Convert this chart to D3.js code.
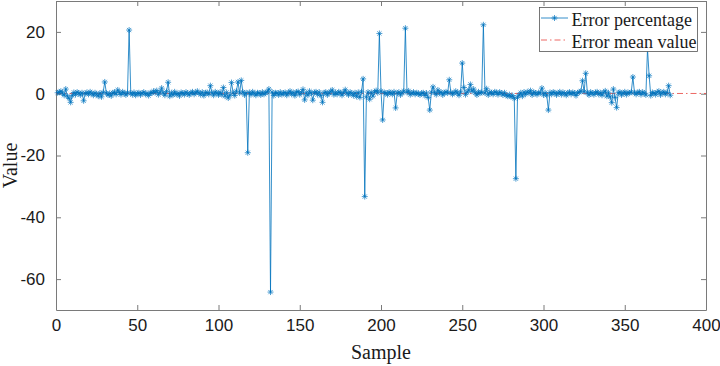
<!DOCTYPE html>
<html>
<head>
<meta charset="utf-8">
<script src="https://cdn.jsdelivr.net/npm/d3@7"></script>
<style>
html,body{margin:0;padding:0;background:#fff;}
svg{display:block;}
</style>
</head>
<body>
<svg id="chart" width="720" height="366"></svg>
<script>
// ---- data ----
const errorValues = [
 0.3,0.5,0.8,0.2,-0.5,1.5,-0.8,-1.5,-2.8,-0.6,0.4,-0.3,0.5,0.2,-0.4,0.3,-2.3,0.1,0.4,-0.2,
 0.6,0.1,-0.5,0.3,-0.2,-0.8,0.2,-1.0,0.4,3.8,0.2,-0.4,0.1,-0.7,0.3,0.5,-0.2,1.2,0.4,-0.3,
 0.6,0.2,-0.4,0.3,20.6,0.2,-0.3,0.4,-0.5,0.1,
 0.3,-0.4,0.2,0.5,-0.2,0.1,-0.6,0.3,0.2,0.8,0.4,1.0,-0.3,0.5,1.8,0.2,-0.5,0.7,3.7,-0.8,
 0.3,-0.4,0.6,-0.2,0.1,-0.7,0.4,0.2,-0.3,0.5,0.1,-0.4,0.3,0.6,-0.2,0.4,0.8,0.2,-0.3,0.5,
 -0.6,0.3,0.4,-0.2,2.6,0.3,-0.5,0.6,0.2,-0.4,
 0.5,-0.3,2.0,-0.8,0.4,-1.4,-0.5,3.6,0.3,-0.6,0.8,3.8,0.2,4.3,0.5,-0.4,0.3,-19.1,0.4,-0.3,
 0.6,0.1,-0.5,0.3,0.2,-0.4,0.5,-0.2,0.3,0.6,1.5,-64.2,0.5,-0.6,0.3,0.2,-0.4,0.5,-0.3,0.2,
 0.4,-0.5,0.3,0.8,-0.2,0.4,-0.6,0.5,0.7,-0.3,
 0.4,1.4,-2.0,0.3,-0.5,0.8,0.2,-2.1,0.4,0.6,-0.3,0.5,-0.6,-2.8,0.3,0.5,-0.4,0.2,0.7,1.2,
 -0.3,0.4,-0.2,0.6,0.3,-0.5,0.4,1.3,0.2,-0.4,0.5,0.1,-0.6,0.3,-0.9,0.4,-1.2,0.6,4.8,-33.3,
 -1.0,0.5,-1.8,0.4,-0.8,0.6,1.0,0.3,19.5,0.8,
 -8.5,0.4,0.2,-0.3,0.5,0.3,-0.2,0.6,-4.6,0.2,0.5,-0.4,0.3,0.8,21.2,0.4,0.9,-0.3,0.2,0.5,
 -0.2,0.3,0.1,-0.4,0.2,0.3,-0.6,0.2,-1.2,-5.3,0.5,2.2,0.4,-0.3,1.2,0.2,0.5,-0.4,0.3,0.6,
 0.2,4.5,0.4,-0.2,0.3,0.8,0.2,-0.5,0.6,9.9,
 2.0,-0.3,0.5,1.2,3.0,0.8,1.5,0.3,-0.4,0.6,0.2,0.4,22.3,0.2,1.6,-0.4,0.5,0.3,-0.2,0.6,
 0.4,-0.3,0.5,0.2,-0.4,0.3,-0.5,-0.8,-0.3,-1.0,-0.6,-1.5,-27.5,-1.2,-0.4,0.3,-0.8,0.5,-0.2,0.6,
 0.3,1.0,-0.4,0.5,0.2,-0.3,0.4,0.2,1.8,-0.4,
 0.3,-0.5,-5.3,0.4,-0.2,0.5,0.3,-0.4,0.2,0.6,-0.3,0.4,0.1,-0.5,0.3,0.5,-0.2,0.4,0.2,-0.6,
 0.3,0.5,0.8,4.2,0.6,6.6,0.3,-0.4,0.5,0.2,-0.3,0.4,0.6,-0.2,0.3,-0.5,0.4,0.9,-0.8,0.3,
 -1.0,-2.9,1.5,-1.2,-4.5,0.3,0.5,-0.4,0.2,0.6,-0.3,0.4,0.2,0.5,5.4,0.3,-0.2,0.4,0.6,-0.3,
 0.5,0.2,-0.4,14.5,5.8,-0.6,0.4,0.2,-0.3,0.5,0.8,-0.4,0.3,0.6,-0.2,0.4,2.6,-0.5
];
const samples = errorValues.map((v, i) => i + 1);
const meanValue = d3.mean(errorValues);
const xTicks = [0, 50, 100, 150, 200, 250, 300, 350, 400];
const yTicks = [-60, -40, -20, 0, 20];
const legendLabels = ["Error percentage", "Error mean value"];
const axisLabels = { x: "Sample", y: "Value" };

// ---- layout ----
const svg = d3.select("#chart");
const L = 56, R = 706, T = 1, B = 310;
const x = d3.scaleLinear().domain([0, 400]).range([L, R]);
const y = d3.scaleLinear().domain([-70, 30]).range([B, T]);
const axisColor = "#7a7a7a";
const textColor = "#1a1a1a";
const blue = "#0072BD";
const red = "#e8413c";
const fmt = d => String(d);

// axes with inward ticks (box style)
const tickFont = "Liberation Sans, Arial, sans-serif";
const gx = svg.append("g").attr("transform", `translate(0,${B})`)
  .call(d3.axisBottom(x).tickValues(xTicks).tickFormat(fmt).tickSizeInner(-5).tickSizeOuter(0).tickPadding(13));
const gxt = svg.append("g").attr("transform", `translate(0,${T})`)
  .call(d3.axisTop(x).tickValues(xTicks).tickSizeInner(-5).tickSizeOuter(0).tickFormat(""));
const gy = svg.append("g").attr("transform", `translate(${L},0)`)
  .call(d3.axisLeft(y).tickValues(yTicks).tickFormat(fmt).tickSizeInner(-5).tickSizeOuter(0).tickPadding(11));
const gyr = svg.append("g").attr("transform", `translate(${R},0)`)
  .call(d3.axisRight(y).tickValues(yTicks).tickSizeInner(-5).tickSizeOuter(0).tickFormat(""));
[gx, gxt, gy, gyr].forEach(g => {
  g.selectAll("path.domain").attr("stroke", axisColor).attr("stroke-width", 1);
  g.selectAll(".tick line").attr("stroke", axisColor).attr("stroke-width", 1);
  g.selectAll(".tick text").attr("fill", textColor).attr("font-family", tickFont).attr("font-size", 17);
});
gx.selectAll(".tick text").attr("dy", "0.71em").attr("y", 9);

// mean line
svg.append("line")
  .attr("x1", x(0)).attr("x2", x(400)).attr("y1", y(meanValue)).attr("y2", y(meanValue))
  .attr("stroke", red).attr("stroke-width", 0.8).attr("stroke-dasharray", "6,3,1.5,3");

// data line
const line = d3.line().x((d, i) => x(samples[i])).y(d => y(d));
svg.append("path").datum(errorValues)
  .attr("d", line).attr("fill", "none").attr("stroke", blue).attr("stroke-width", 0.8)
  .attr("stroke-linejoin", "round");

// asterisk markers
const r = 3;
const star = `M${-r},0L${r},0M0,${-r}L0,${r}M${-r*0.7},${-r*0.7}L${r*0.7},${r*0.7}M${-r*0.7},${r*0.7}L${r*0.7},${-r*0.7}`;
svg.append("g").selectAll("path").data(errorValues).join("path")
  .attr("transform", (d, i) => `translate(${x(samples[i])},${y(d)})`)
  .attr("d", star).attr("stroke", blue).attr("stroke-width", 0.7).attr("fill", "none");

// axis labels
const serif = "Liberation Serif, 'Times New Roman', serif";
svg.append("text").attr("x", (L + R) / 2).attr("y", 359).attr("text-anchor", "middle")
  .attr("font-family", serif).attr("font-size", 20).attr("fill", textColor).text(axisLabels.x);
svg.append("text").attr("transform", `translate(17,${(T + B) / 2 + 10}) rotate(-90)`)
  .attr("text-anchor", "middle").attr("font-family", serif).attr("font-size", 20)
  .attr("fill", textColor).text(axisLabels.y);

// legend
const lg = svg.append("g");
lg.append("rect").attr("x", 539.5).attr("y", 7.5).attr("width", 158).attr("height", 44)
  .attr("fill", "#fff").attr("stroke", "#555").attr("stroke-width", 0.8);
const rows = [18, 40];
lg.append("line").attr("x1", 541).attr("x2", 568).attr("y1", rows[0]).attr("y2", rows[0])
  .attr("stroke", blue).attr("stroke-width", 0.8);
lg.append("path").attr("transform", `translate(554.5,${rows[0]})`).attr("d", star)
  .attr("stroke", blue).attr("stroke-width", 0.7).attr("fill", "none");
lg.append("line").attr("x1", 541).attr("x2", 568).attr("y1", rows[1]).attr("y2", rows[1])
  .attr("stroke", red).attr("stroke-width", 0.8).attr("stroke-dasharray", "6,3,1.5,3");
legendLabels.forEach((t, i) => {
  lg.append("text").attr("x", 571.5).attr("y", rows[i] + 8)
    .attr("font-family", serif).attr("font-size", 18).attr("fill", textColor).text(t);
});
</script>
</body>
</html>
